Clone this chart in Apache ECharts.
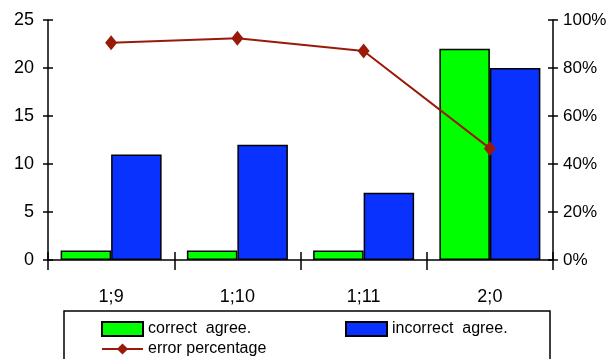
<!DOCTYPE html>
<html>
<head>
<meta charset="utf-8">
<style>
  html, body { margin: 0; padding: 0; background: #ffffff; }
  #chart { width: 606px; height: 359px; }
</style>
<script src="https://cdn.jsdelivr.net/npm/echarts@6/dist/echarts.min.js"></script>
</head>
<body>
<div id="chart"></div>
<script>
// Age groups (years;months)
const categories = ['1;9', '1;10', '1;11', '2;0'];
// Counts of agreement forms
const correctAgree = [1, 1, 1, 22];
const incorrectAgree = [11, 12, 7, 20];
// Share of incorrect forms, in percent
const errorPercentage = [90.5, 92.4, 87.1, 46.5];
// Axis tick values
const countTicks = { min: 0, max: 25, interval: 5 };
const percentTicks = { min: 0, max: 100, interval: 20 };

const FONT = '"Liberation Sans", Arial, sans-serif';
const TICK_STYLE = { color: '#000', width: 1.5 };

const chart = echarts.init(document.getElementById('chart'), null, { renderer: 'canvas' });

const option = {
  backgroundColor: '#ffffff',
  animation: false,
  textStyle: { fontFamily: FONT },
  grid: { left: 48, right: 53, top: 20, bottom: 99, containLabel: false, outerBoundsMode: 'none' },
  xAxis: [
    {
      type: 'category',
      data: categories,
      position: 'bottom',
      axisLine: { lineStyle: TICK_STYLE },
      axisTick: { show: true, interval: 0, length: 10, lineStyle: TICK_STYLE },
      axisLabel: { color: '#000', fontSize: 18, fontFamily: FONT, margin: 28 },
      splitLine: { show: false }
    },
    {
      // second copy of the category axis: draws the upward half of the crossing ticks
      type: 'category',
      data: categories,
      position: 'bottom',
      axisLine: { show: false },
      axisTick: { show: true, inside: true, interval: 0, length: 8, lineStyle: TICK_STYLE },
      axisLabel: { show: false },
      splitLine: { show: false }
    }
  ],
  yAxis: [
    {
      type: 'value',
      position: 'left',
      min: countTicks.min, max: countTicks.max, interval: countTicks.interval,
      axisLine: { show: true, lineStyle: TICK_STYLE },
      axisTick: { show: true, length: 5, lineStyle: TICK_STYLE },
      axisLabel: { color: '#000', fontSize: 18, fontFamily: FONT, margin: 14 },
      splitLine: { show: false }
    },
    {
      type: 'value',
      position: 'right',
      min: percentTicks.min, max: percentTicks.max, interval: percentTicks.interval,
      axisLine: { show: true, lineStyle: TICK_STYLE },
      axisTick: { show: true, length: 5, lineStyle: TICK_STYLE },
      axisLabel: { color: '#000', fontSize: 17, fontFamily: FONT, margin: 10, formatter: '{value}%' },
      splitLine: { show: false }
    },
    {
      type: 'value',
      position: 'left',
      min: countTicks.min, max: countTicks.max, interval: countTicks.interval,
      axisLine: { show: false },
      axisTick: { show: true, inside: true, length: 5, lineStyle: TICK_STYLE },
      axisLabel: { show: false },
      splitLine: { show: false }
    },
    {
      type: 'value',
      position: 'right',
      min: percentTicks.min, max: percentTicks.max, interval: percentTicks.interval,
      axisLine: { show: false },
      axisTick: { show: true, inside: true, length: 5, lineStyle: TICK_STYLE },
      axisLabel: { show: false },
      splitLine: { show: false }
    }
  ],
  legend: [
    {
      data: [{ name: 'correct  agree.', icon: 'rect' }],
      left: 101, top: 321, padding: 0,
      itemWidth: 41, itemHeight: 14,
      textStyle: { color: '#000', fontSize: 16, fontFamily: FONT, lineHeight: 16 }
    },
    {
      data: [{ name: 'incorrect  agree.', icon: 'rect' }],
      left: 345, top: 321, padding: 0,
      itemWidth: 41, itemHeight: 14,
      textStyle: { color: '#000', fontSize: 16, fontFamily: FONT, lineHeight: 16 }
    },
    {
      data: ['error percentage'],
      left: 101, top: 341, padding: 0,
      itemWidth: 41, itemHeight: 14,
      textStyle: { color: '#000', fontSize: 16, fontFamily: FONT, lineHeight: 16 }
    }
  ],
  graphic: [
    {
      type: 'rect',
      shape: { x: 64, y: 311, width: 486, height: 70 },
      style: { fill: 'none', stroke: '#000', lineWidth: 1.5 },
      z: 0
    }
  ],
  series: [
    {
      name: 'correct  agree.',
      type: 'bar',
      xAxisIndex: 0, yAxisIndex: 0,
      data: correctAgree,
      barGap: '0%',
      barCategoryGap: '20%',
      itemStyle: { color: '#00ff00', borderColor: '#000', borderWidth: 1.5 }
    },
    {
      name: 'incorrect  agree.',
      type: 'bar',
      xAxisIndex: 0, yAxisIndex: 0,
      data: incorrectAgree,
      barGap: '0%',
      barCategoryGap: '20%',
      itemStyle: { color: '#0a32ff', borderColor: '#000', borderWidth: 1.5 }
    },
    {
      name: 'error percentage',
      type: 'line',
      xAxisIndex: 0, yAxisIndex: 1,
      data: errorPercentage,
      symbol: 'diamond',
      symbolSize: [12, 15],
      lineStyle: { color: '#9a1a0a', width: 2 },
      itemStyle: { color: '#9a1a0a' },
      z: 5
    }
  ]
};

chart.setOption(option);
</script>
</body>
</html>
